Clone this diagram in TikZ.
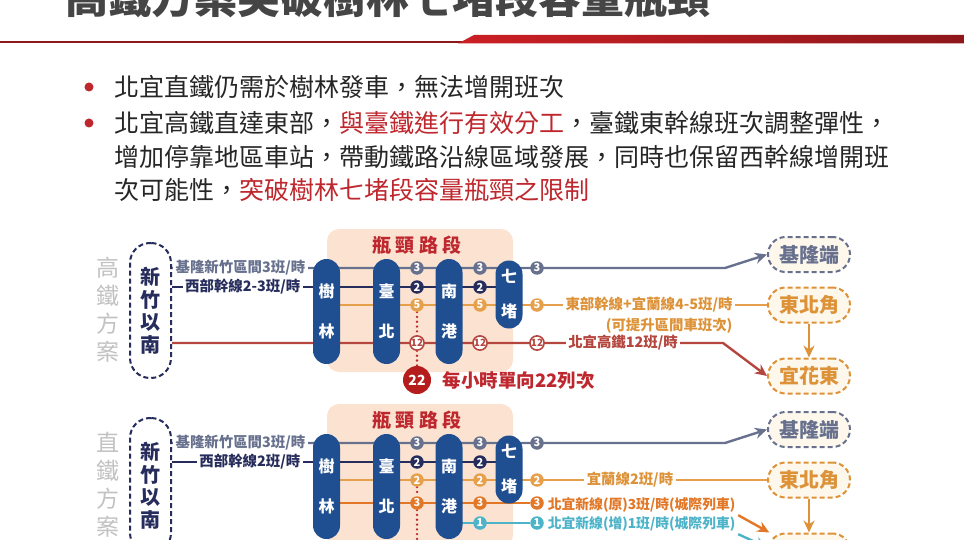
\documentclass[tikz,border=0pt]{standalone}
\usepackage{fontspec}
\setmainfont{Noto Sans CJK TC}
\usetikzlibrary{positioning,arrows.meta}

\definecolor{hired}{HTML}{BE272D}
\definecolor{barred}{HTML}{8E171B}
\definecolor{ttlgray}{HTML}{454545}
\definecolor{txtgray}{HTML}{262626}
\definecolor{plgray}{HTML}{C2C2C2}
\definecolor{navy}{HTML}{262D5C}
\definecolor{slate}{HTML}{67718E}
\definecolor{amber}{HTML}{E6A04C}
\definecolor{amberdk}{HTML}{DD9238}
\definecolor{rust}{HTML}{B4463E}
\definecolor{deeporg}{HTML}{E27727}
\definecolor{aqua}{HTML}{4DB3C9}
\definecolor{stblue}{HTML}{1F4E91}
\definecolor{peach}{HTML}{FCE3D1}
\definecolor{cream}{HTML}{FDF7EC}
\definecolor{bigred}{HTML}{B51C1C}

\pgfdeclarelayer{tint}
\pgfdeclarelayer{track}
\pgfsetlayers{tint,track,main}

\begin{document}
\begin{tikzpicture}[x=0.5pt,y=-0.5pt,>={Stealth[length=6pt,width=5.5pt]},
    stop node/.style={fill=stblue,rounded corners=6.75pt,minimum width=13.5pt,inner sep=0pt,text=white,align=center,font=\bfseries\fontsize{8}{20}\selectfont},
    count node/.style={circle,minimum size=6.75pt,inner sep=0pt,text=white,font=\bfseries\fontsize{5.5}{5.5}\selectfont},
    end node/.style={draw=#1,text=#1,dash pattern=on 2.5pt off 1.5pt,line width=1pt,fill=cream,rounded corners=8.75pt,minimum width=41pt,minimum height=17.5pt,inner sep=0pt,font=\bfseries\fontsize{10}{10}\selectfont},
    rate label/.style={text=#1,fill=white,inner sep=1.2pt,font=\bfseries\fontsize{7.2}{7.2}\selectfont},
    route/.style={draw=#1,line width=1.2pt},
    dots/.style={draw=hired,line width=1.3pt,line cap=round,dash pattern=on 0pt off 2.4pt},
    line text/.style={anchor=base west,inner sep=0pt,text=txtgray,font=\fontsize{12.5}{12.5}\selectfont}]
\useasboundingbox (0,0) rectangle (964,540);

% title and bar
\node[anchor=base west,inner sep=0pt,text=ttlgray,font=\bfseries\fontsize{21.5}{21.5}\selectfont] (title) at (65,14) {高鐵方案突破樹林七堵段容量瓶頸};
\draw[barred,line width=0.9pt] (0,42) -- (470,42);
\shade[left color=hired!80!red,right color=barred] (458,43.5) -- (474,35) -- (964,35) -- (964,43.5) -- cycle;

% bullets
\node[circle,fill=hired,minimum size=4.5pt,inner sep=0pt] (dot1) at (89,87) {};
\node[circle,fill=hired,minimum size=4.5pt,inner sep=0pt] (dot2) at (89,123) {};
\node[line text] (bl1) at (114,96.5) {北宜直鐵仍需於樹林發車，無法增開班次};
\node[line text] (bl2) at (114,132.5) {北宜高鐵直達東部，\textcolor{hired}{與臺鐵進行有效分工}，臺鐵東幹線班次調整彈性，};
\node[line text] (bl3) at (114,166.5) {增加停靠地區車站，帶動鐵路沿線區域發展，同時也保留西幹線增開班};
\node[line text] (bl4) at (114,199.5) {次可能性，\textcolor{hired}{突破樹林七堵段容量瓶頸之限制}};

% both plans
\foreach \o/\n/\pl/\wl in {0/1/高/2-3,175/2/直/2}{
  \begin{pgfonlayer}{tint}
    \fill[peach,rounded corners=6pt] (327,229+\o) rectangle (513,372+\o);
  \end{pgfonlayer}
  \node[text=hired,font=\bfseries\fontsize{9.5}{9.5}\selectfont] (neck\n) at (417,245+\o) {瓶\hspace{2.2pt}頸\hspace{2.2pt}路\hspace{2.2pt}段};
  \node[text=plgray,align=center,font=\fontsize{11.5}{14}\selectfont] (plan\n) at (108,310+\o) {\pl\\鐵\\方\\案};
  \node[draw=navy,dash pattern=on 2.5pt off 1.5pt,line width=1pt,fill=white,rounded corners=10pt,minimum width=20.5pt,minimum height=67.5pt,inner sep=0pt,text=navy,align=center,font=\bfseries\fontsize{10}{11.25}\selectfont] (src\n) at (150.5,310.5+\o) {新\\竹\\以\\南};
  \node[stop node,minimum height=52.5pt] (sl\n) at (326.5,311.5+\o) {樹\\林};
  \node[stop node,minimum height=52.5pt] (tp\n) at (386.5,311.5+\o) {臺\\北};
  \node[stop node,minimum height=52.5pt] (ng\n) at (449,311.5+\o) {南\\港};
  \node[stop node,minimum height=34pt,font=\bfseries\fontsize{8}{17.5}\selectfont] (qd\n) at (509,294.5+\o) {七\\堵};
  \foreach \cx [count=\k] in {417,480,537}
    \node[count node,fill=slate] (c\n1\k) at (\cx,268+\o) {3};
  \foreach \cx [count=\k] in {417,480}
    \node[count node,fill=navy] (c\n2\k) at (\cx,287+\o) {2};
  \node[end node=slate] (kl\n) at (809,254.5+\o) {基隆端};
  \node[end node=amberdk] (ne\n) at (809,305+\o) {東北角};
  \node[end node=amberdk] (hl\n) at (809,376+\o) {宜花東};
  \node[rate label=slate,anchor=east] (lk\n) at (308,268+\o) {基隆新竹區間3班/時};
  \node[rate label=navy,anchor=east] (lw\n) at (303,287+\o) {西部幹線\wl 班/時};
  \coordinate (kb\n) at (725,268+\o);
  \begin{pgfonlayer}{track}
    \draw[route=slate,->] (src\n.east |- c\n11) -- (c\n13.center) -- (kb\n) -- (kl\n.west);
    \draw[route=navy] (src\n.east |- c\n21) -- (qd\n.center |- c\n21);
    \draw[route=amberdk,->] (ne\n) -- (hl\n);
  \end{pgfonlayer}
}

% high speed plan
\foreach \cx [count=\k] in {417,480,537}{
  \node[count node,fill=amber] (c13\k) at (\cx,305) {5};
  \node[count node,fill=white,draw=rust,line width=0.8pt,text=rust,font=\bfseries\fontsize{5}{5}\selectfont] (c14\k) at (\cx,343) {12};
}
\node[circle,fill=bigred,minimum size=14pt,inner sep=0pt,text=white,font=\bfseries\fontsize{7}{7}\selectfont] (n22) at (417,380) {22};
\node[right=5.5pt of n22,inner sep=0pt,text=hired,font=\bfseries\fontsize{9.25}{9.25}\selectfont] (trains) {每小時單向22列次};
\node[rate label=amberdk] (le1) at (649,305) {東部幹線+宜蘭線4-5班/時};
\node[rate label=amberdk,fill=none,anchor=north east] (le1b) at (le1.south east) {(可提升區間車班次)};
\node[rate label=rust] (lg1) at (623,343) {北宜高鐵12班/時};
\coordinate (hb1) at (723,343);
\begin{pgfonlayer}{track}
  \draw[route=amber] (sl1.center |- c131) -- (ne1.west);
  \draw[route=rust,->] (src1.east |- c141) -- (hb1) -- (hl1.west);
  \draw[dots] (c131) -- (c141) -- (n22);
\end{pgfonlayer}

% direct rail plan
\foreach \cx [count=\k] in {417,480,537}{
  \node[count node,fill=amber] (c23\k) at (\cx,480) {2};
  \node[count node,fill=deeporg] (c24\k) at (\cx,503) {3};
}
\foreach \cx [count=\k] in {480,537}
  \node[count node,fill=aqua] (c25\k) at (\cx,523) {1};
\node[rate label=amberdk] (le2) at (630,480) {宜蘭線2班/時};
\node[rate label=deeporg,anchor=west,fill=none,font=\bfseries\fontsize{6.9}{6.9}\selectfont] (lo2) at (545,505) {北宜新線(原)3班/時(城際列車)};
\node[rate label=aqua,anchor=west,fill=none,font=\bfseries\fontsize{6.9}{6.9}\selectfont] (lt2) at (545,524) {北宜新線(增)1班/時(城際列車)};
\coordinate (tail2) at (417,560);
\begin{pgfonlayer}{track}
  \draw[route=amber] (sl2.center |- c231) -- (ne2.west);
  \draw[route=deeporg] (sl2.center |- c241) -- (c243);
  \draw[route=aqua] (ng2.center |- c251) -- (c252);
  \draw[route=deeporg,->] (lo2.south east) -- (hl2.155);
  \draw[route=aqua,->] (lt2.south east) -- (hl2.175);
  \draw[dots] (c231) -- (c241) -- (tail2);
\end{pgfonlayer}
\end{tikzpicture}
\end{document}
